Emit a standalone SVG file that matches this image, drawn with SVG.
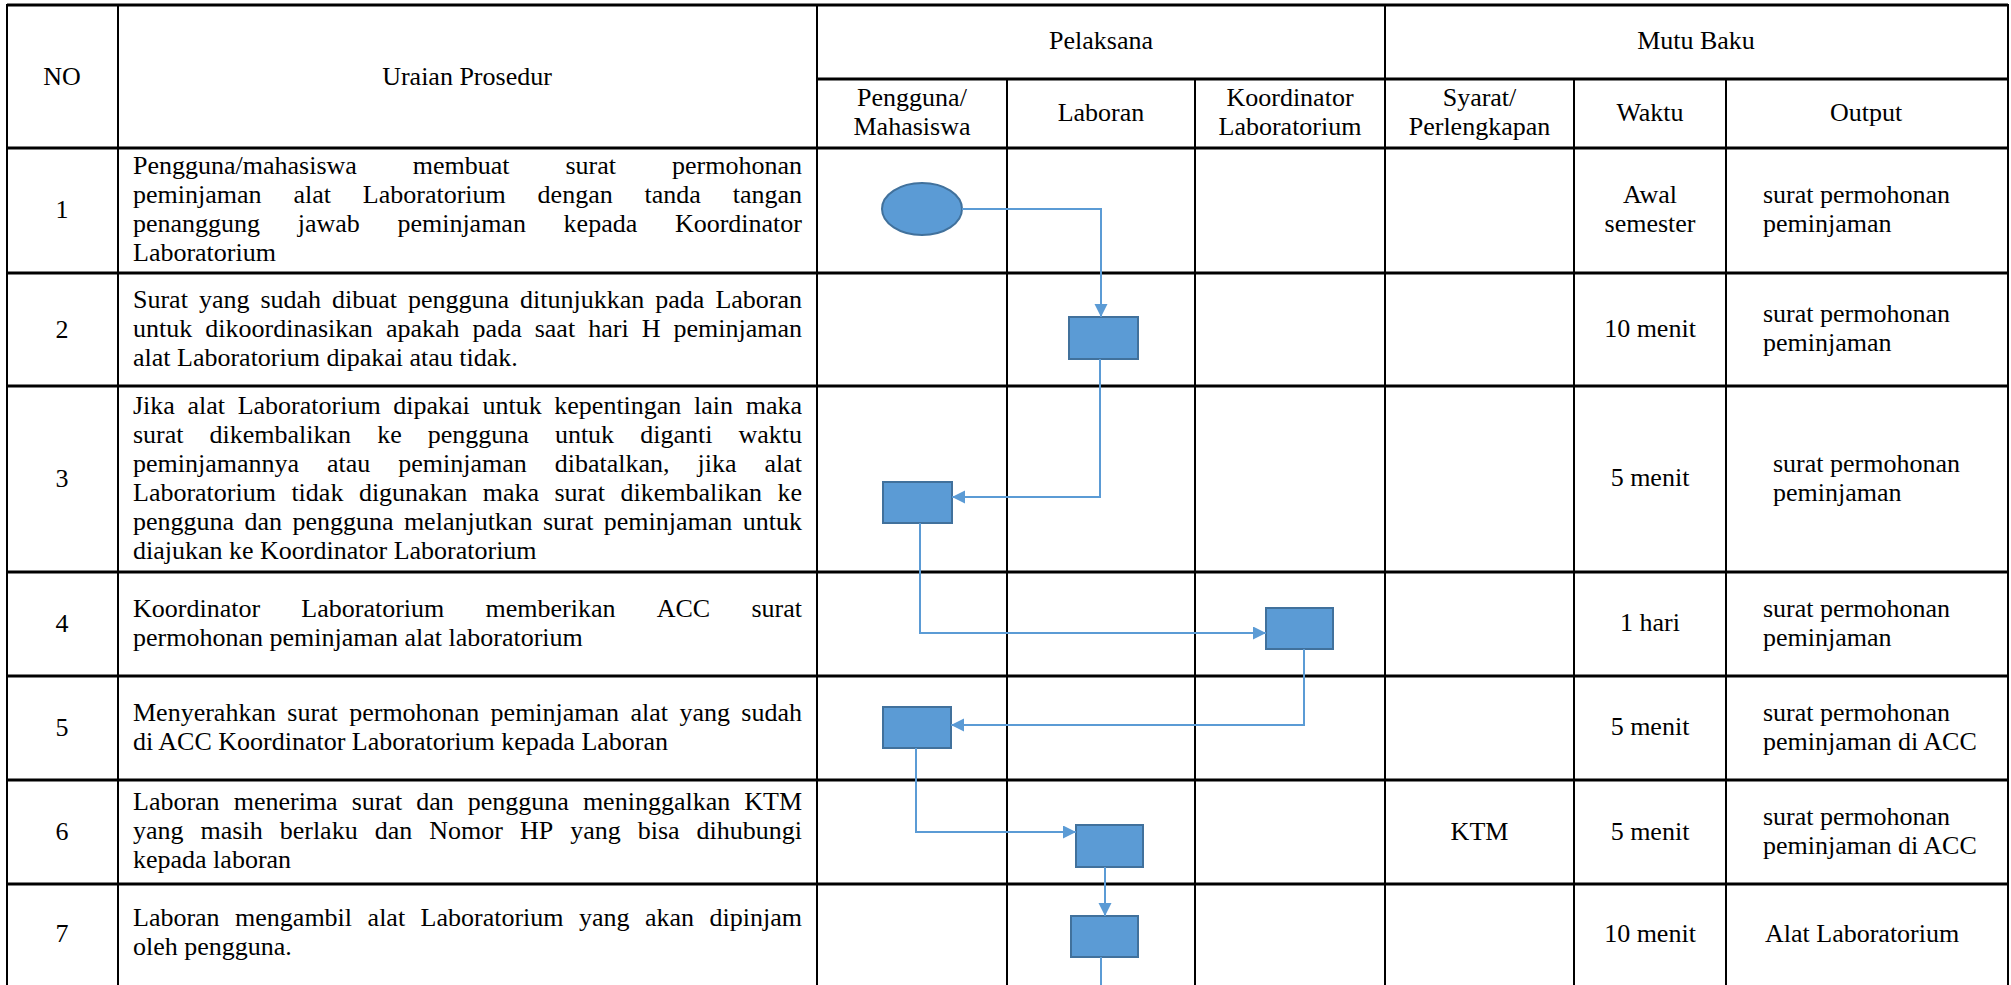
<svg xmlns="http://www.w3.org/2000/svg" width="2011" height="985" viewBox="0 0 2011 985" font-family="'Liberation Serif', 'Times New Roman', serif">
<defs>
<style>
text{font-family:"Liberation Serif","Times New Roman",serif;font-size:26px;fill:#000}
text.mid{font-family:"Liberation Serif","Times New Roman",serif;text-anchor:middle}
.grid line{stroke:#000;stroke-width:2}
.grid line.h{stroke-width:3}
.proc{fill:#5B9BD5;stroke:#41719C;stroke-width:2}
.conn path{fill:none;stroke:#5B9BD5;stroke-width:2}
</style>
<marker id="arr" markerUnits="userSpaceOnUse" markerWidth="14" markerHeight="14" refX="13" refY="6.5" orient="auto">
<path d="M0,0 L13,6.5 L0,13 z" fill="#5B9BD5"/>
</marker>
</defs>
<rect width="2011" height="985" fill="#fff"/>
<g class="grid">
<line class="h" x1="7" y1="5" x2="2008" y2="5"/>
<line class="h" x1="817" y1="79" x2="2008" y2="79"/>
<line class="h" x1="7" y1="148" x2="2008" y2="148"/>
<line class="h" x1="7" y1="273" x2="2008" y2="273"/>
<line class="h" x1="7" y1="386" x2="2008" y2="386"/>
<line class="h" x1="7" y1="572" x2="2008" y2="572"/>
<line class="h" x1="7" y1="676" x2="2008" y2="676"/>
<line class="h" x1="7" y1="780" x2="2008" y2="780"/>
<line class="h" x1="7" y1="884" x2="2008" y2="884"/>
<line x1="7" y1="4" x2="7" y2="985"/>
<line x1="118" y1="4" x2="118" y2="985"/>
<line x1="817" y1="4" x2="817" y2="985"/>
<line x1="1385" y1="4" x2="1385" y2="985"/>
<line x1="2008" y1="4" x2="2008" y2="985"/>
<line x1="1007" y1="79" x2="1007" y2="985"/>
<line x1="1195" y1="79" x2="1195" y2="985"/>
<line x1="1574" y1="79" x2="1574" y2="985"/>
<line x1="1726" y1="79" x2="1726" y2="985"/>
</g>
<g id="header">
<text class="mid" x="62" y="85">NO</text>
<text class="mid" x="467" y="85">Uraian Prosedur</text>
<text class="mid" x="1101" y="49">Pelaksana</text>
<text class="mid" x="1696" y="49">Mutu Baku</text>
<text class="mid" x="912" y="106">Pengguna/</text>
<text class="mid" x="912" y="135">Mahasiswa</text>
<text class="mid" x="1101" y="120.5">Laboran</text>
<text class="mid" x="1290" y="106">Koordinator</text>
<text class="mid" x="1290" y="135">Laboratorium</text>
<text class="mid" x="1479.5" y="106">Syarat/</text>
<text class="mid" x="1479.5" y="135">Perlengkapan</text>
<text class="mid" x="1650" y="120.5">Waktu</text>
<text class="mid" x="1866" y="120.5">Output</text>
</g>
<g id="row1">
<text class="mid" x="62" y="218">1</text>
<text y="174"><tspan x="133">Pengguna/mahasiswa</tspan><tspan x="412.8">membuat</tspan><tspan x="565.5">surat</tspan><tspan x="672">permohonan</tspan></text>
<text y="203"><tspan x="133">peminjaman</tspan><tspan x="293.4">alat</tspan><tspan x="362.8">Laboratorium</tspan><tspan x="537.6">dengan</tspan><tspan x="644.5">tanda</tspan><tspan x="732.7">tangan</tspan></text>
<text y="232"><tspan x="133">penanggung</tspan><tspan x="297.7">jawab</tspan><tspan x="397.4">peminjaman</tspan><tspan x="563.6">kepada</tspan><tspan x="674.9">Koordinator</tspan></text>
<text x="133" y="261">Laboratorium</text>
<text class="mid" x="1650" y="203">Awal</text>
<text class="mid" x="1650" y="232">semester</text>
<text x="1763" y="203">surat permohonan</text>
<text x="1763" y="232">peminjaman</text>
</g>
<g id="row2">
<text class="mid" x="62" y="337.5">2</text>
<text y="307.5"><tspan x="133">Surat</tspan><tspan x="198.9">yang</tspan><tspan x="260.4">sudah</tspan><tspan x="332">dibuat</tspan><tspan x="408">pengguna</tspan><tspan x="520.1">ditunjukkan</tspan><tspan x="655.3">pada</tspan><tspan x="715.4">Laboran</tspan></text>
<text y="336.5"><tspan x="133">untuk</tspan><tspan x="205.3">dikoordinasikan</tspan><tspan x="385.9">apakah</tspan><tspan x="472.6">pada</tspan><tspan x="534.7">saat</tspan><tspan x="588.2">hari</tspan><tspan x="641.7">H</tspan><tspan x="673.5">peminjaman</tspan></text>
<text x="133" y="365.5">alat Laboratorium dipakai atau tidak.</text>
<text class="mid" x="1650" y="336.5">10 menit</text>
<text x="1763" y="322">surat permohonan</text>
<text x="1763" y="351">peminjaman</text>
</g>
<g id="row3">
<text class="mid" x="62" y="487">3</text>
<text y="413.5"><tspan x="133">Jika</tspan><tspan x="187.5">alat</tspan><tspan x="237.7">Laboratorium</tspan><tspan x="393.3">dipakai</tspan><tspan x="482.5">untuk</tspan><tspan x="554.3">kepentingan</tspan><tspan x="694.1">lain</tspan><tspan x="745.7">maka</tspan></text>
<text y="442.5"><tspan x="133">surat</tspan><tspan x="209.6">dikembalikan</tspan><tspan x="377.2">ke</tspan><tspan x="427.8">pengguna</tspan><tspan x="554.9">untuk</tspan><tspan x="640.2">diganti</tspan><tspan x="738.5">waktu</tspan></text>
<text y="471.5"><tspan x="133">peminjamannya</tspan><tspan x="327">atau</tspan><tspan x="398.3">peminjaman</tspan><tspan x="554.8">dibatalkan,</tspan><tspan x="697.5">jika</tspan><tspan x="764.5">alat</tspan></text>
<text y="500.5"><tspan x="133">Laboratorium</tspan><tspan x="291.4">tidak</tspan><tspan x="358.9">digunakan</tspan><tspan x="482.7">maka</tspan><tspan x="554.5">surat</tspan><tspan x="620.5">dikembalikan</tspan><tspan x="777.5">ke</tspan></text>
<text y="529.5"><tspan x="133">pengguna</tspan><tspan x="244.5">dan</tspan><tspan x="292.4">pengguna</tspan><tspan x="403.9">melanjutkan</tspan><tspan x="542.9">surat</tspan><tspan x="603.8">peminjaman</tspan><tspan x="742.8">untuk</tspan></text>
<text x="133" y="558.5">diajukan ke Koordinator Laboratorium</text>
<text class="mid" x="1650" y="486">5 menit</text>
<text x="1773" y="471.5">surat permohonan</text>
<text x="1773" y="500.5">peminjaman</text>
</g>
<g id="row4">
<text class="mid" x="62" y="632">4</text>
<text y="616.5"><tspan x="133">Koordinator</tspan><tspan x="301.3">Laboratorium</tspan><tspan x="485.5">memberikan</tspan><tspan x="656.7">ACC</tspan><tspan x="751.4">surat</tspan></text>
<text x="133" y="645.5">permohonan peminjaman alat laboratorium</text>
<text class="mid" x="1650" y="631">1 hari</text>
<text x="1763" y="616.5">surat permohonan</text>
<text x="1763" y="645.5">peminjaman</text>
</g>
<g id="row5">
<text class="mid" x="62" y="736">5</text>
<text y="720.5"><tspan x="133">Menyerahkan</tspan><tspan x="287.3">surat</tspan><tspan x="349.2">permohonan</tspan><tspan x="490.6">peminjaman</tspan><tspan x="630.5">alat</tspan><tspan x="679.4">yang</tspan><tspan x="741.3">sudah</tspan></text>
<text x="133" y="749.5">di ACC Koordinator Laboratorium kepada Laboran</text>
<text class="mid" x="1650" y="735">5 menit</text>
<text x="1763" y="720.5">surat permohonan</text>
<text x="1763" y="749.5">peminjaman di ACC</text>
</g>
<g id="row6">
<text class="mid" x="62" y="840">6</text>
<text y="810"><tspan x="133">Laboran</tspan><tspan x="233.7">menerima</tspan><tspan x="351.7">surat</tspan><tspan x="416.3">dan</tspan><tspan x="467.8">pengguna</tspan><tspan x="582.9">meninggalkan</tspan><tspan x="744.3">KTM</tspan></text>
<text y="839"><tspan x="133">yang</tspan><tspan x="200.6">masih</tspan><tspan x="279.7">berlaku</tspan><tspan x="374.7">dan</tspan><tspan x="429.3">Nomor</tspan><tspan x="519.9">HP</tspan><tspan x="570.2">yang</tspan><tspan x="637.7">bisa</tspan><tspan x="696.6">dihubungi</tspan></text>
<text x="133" y="868">kepada laboran</text>
<text class="mid" x="1479.5" y="840">KTM</text>
<text class="mid" x="1650" y="840">5 menit</text>
<text x="1763" y="825">surat permohonan</text>
<text x="1763" y="854">peminjaman di ACC</text>
</g>
<g id="row7">
<text class="mid" x="62" y="942">7</text>
<text y="926"><tspan x="133">Laboran</tspan><tspan x="235.1">mengambil</tspan><tspan x="367.6">alat</tspan><tspan x="420.6">Laboratorium</tspan><tspan x="579">yang</tspan><tspan x="645">akan</tspan><tspan x="709.5">dipinjam</tspan></text>
<text x="133" y="955">oleh pengguna.</text>
<text class="mid" x="1650" y="942">10 menit</text>
<text x="1765" y="942">Alat Laboratorium</text>
</g>
<g id="nodes">
<ellipse id="start" class="proc" cx="922" cy="209" rx="40" ry="26"/>
<rect id="step2" class="proc" x="1069" y="317" width="69" height="42"/>
<rect id="step3" class="proc" x="883" y="482" width="69" height="41"/>
<rect id="step4" class="proc" x="1266" y="608" width="67" height="41"/>
<rect id="step5" class="proc" x="883" y="707" width="68" height="41"/>
<rect id="step6" class="proc" x="1076" y="825" width="67" height="42"/>
<rect id="step7" class="proc" x="1071" y="916" width="67" height="41"/>
</g>
<g class="conn" id="connectors">
<path d="M962,209 H1101 V317" marker-end="url(#arr)"/>
<path d="M1100,359 V497 H952" marker-end="url(#arr)"/>
<path d="M920,523 V633 H1266" marker-end="url(#arr)"/>
<path d="M1304,649 V725 H951" marker-end="url(#arr)"/>
<path d="M916,748 V832 H1076" marker-end="url(#arr)"/>
<path d="M1105,867 V916" marker-end="url(#arr)"/>
<path d="M1101,957 V985"/>
</g>
</svg>
